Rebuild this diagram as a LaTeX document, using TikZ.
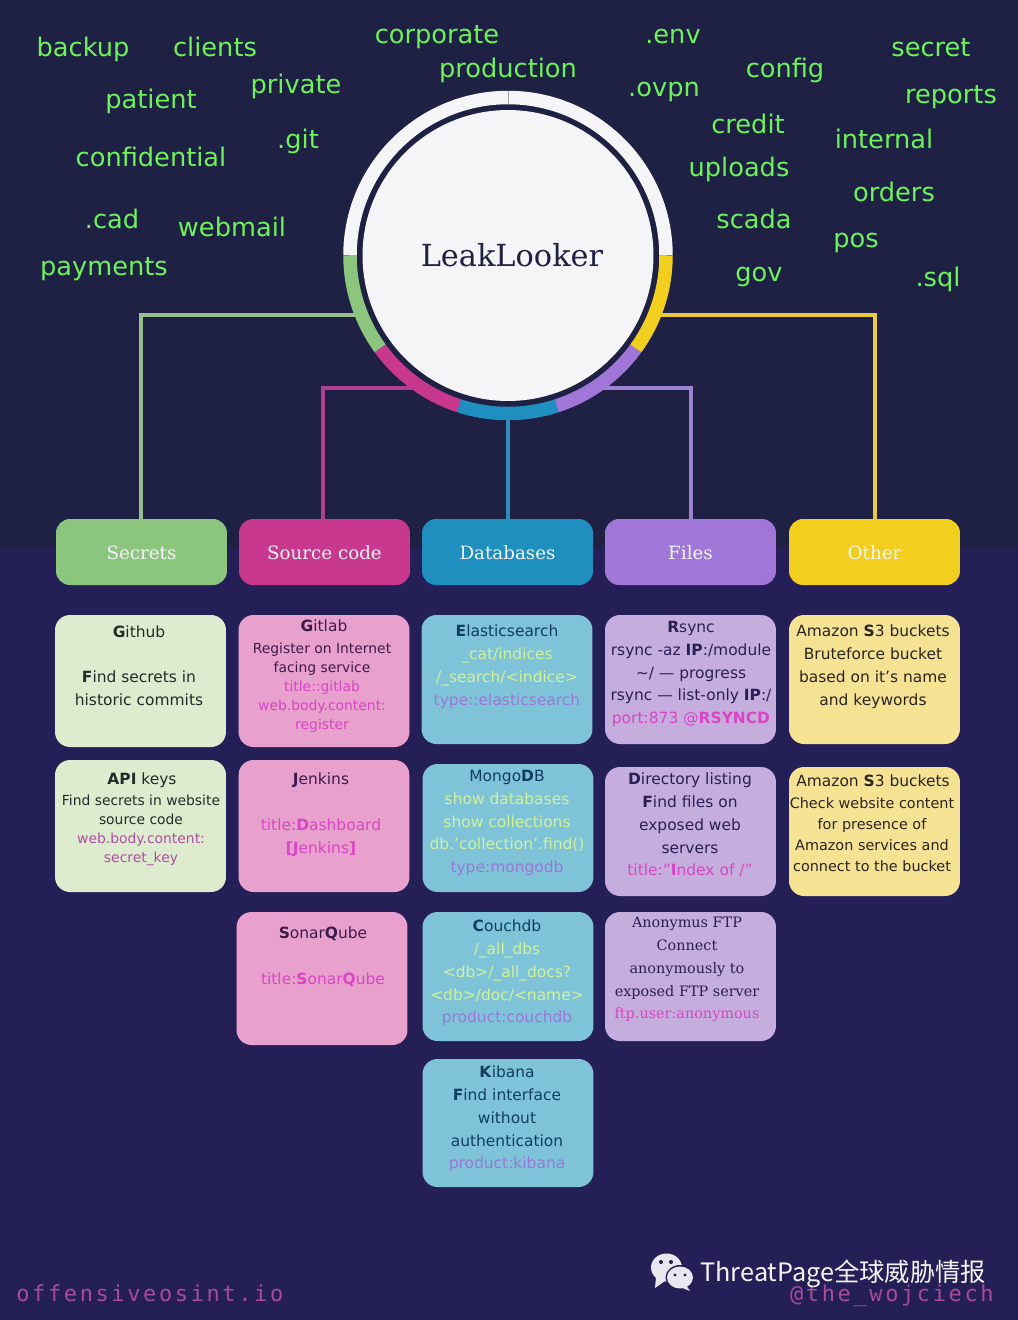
\documentclass[tikz,border=0pt]{standalone}
\usepackage{fontspec}
\usepackage{xcolor}
\setmainfont{DejaVu Sans}
\newfontfamily\slabfont{DejaVu Serif}
\newfontfamily\footfont[LetterSpace=12]{DejaVu Sans Mono}
\newfontfamily\cjkfont{Noto Sans CJK SC}
\definecolor{topbg}{HTML}{1E2143}
\definecolor{lowbg}{HTML}{251F57}
\definecolor{hubwhite}{HTML}{F5F5F7}
\definecolor{keygreen}{HTML}{6EF25A}
\definecolor{secretscol}{HTML}{8CC57E}
\definecolor{sourcecol}{HTML}{C8388F}
\definecolor{basescol}{HTML}{1F8FBF}
\definecolor{filescol}{HTML}{A076D8}
\definecolor{othercol}{HTML}{F2CE1E}
\definecolor{secretsfeed}{HTML}{98BE8C}
\definecolor{sourcefeed}{HTML}{B0408F}
\definecolor{basesfeed}{HTML}{2F8DBB}
\definecolor{filesfeed}{HTML}{9C82D0}
\definecolor{otherfeed}{HTML}{EBC845}
\definecolor{cardgreen}{HTML}{DDEBCF}
\definecolor{cardpink}{HTML}{E8A0CC}
\definecolor{cardblue}{HTML}{7FC3D9}
\definecolor{cardpurple}{HTML}{C5AEDD}
\definecolor{cardyellow}{HTML}{F5E293}
\definecolor{inkgreen}{HTML}{1F2E2A}
\definecolor{inkpink}{HTML}{3D1B4D}
\definecolor{inkblue}{HTML}{123E5E}
\definecolor{inkpurple}{HTML}{2A1F55}
\definecolor{inkyellow}{HTML}{2A2420}
\definecolor{qrymagenta}{HTML}{D945C4}
\definecolor{qryplum}{HTML}{B04FA0}
\definecolor{qryviolet}{HTML}{9A78D8}
\definecolor{cmdlime}{HTML}{CFF29B}
\definecolor{footpink}{HTML}{A84C9A}
\definecolor{iconwhite}{HTML}{E8E6EE}

\begin{document}
\begin{tikzpicture}[x=0.02cm, y=0.02cm,
	keyword/.style={text=keygreen, inner sep=0pt, text height=11pt, text depth=0pt, font=\fontsize{14.6}{17}\selectfont},
	catbox/.style={rounded corners=0.28cm, minimum width=3.42cm, minimum height=1.32cm, inner sep=0pt, text=hubwhite, text height=8pt, text depth=0pt, font=\slabfont\fontsize{10.4}{13}\selectfont},
	card/.style={rounded corners=0.3cm, minimum width=3.42cm, inner sep=0pt},
	cardtext/.style={align=center, inner sep=0pt, font=\fontsize{8.8}{13}\selectfont},
	smalltext/.style={align=center, inner sep=0pt, font=\fontsize{7.9}{10.8}\selectfont},
	ringseg/.style={line width=0.27cm},
	feed/.style={line width=0.08cm}]
	\useasboundingbox (0,0) rectangle (1018,-1320);
	\fill[topbg] (0,0) rectangle (1018,-547);
	\fill[lowbg] (0,-547) rectangle (1018,-1320);

	% words round the hub
	\foreach \kw/\px/\py [count=\i] in {backup/83/47, clients/215/47, corporate/437/34, production/508/68, .env/673/34, config/785/68, secret/931/47, reports/951/94, patient/151/99, private/296/84, .ovpn/664/87, credit/748/124, internal/884/139, .git/298/139, uploads/739/167, orders/894/192, confidential/151/157, .cad/112/219, webmail/232/227, scada/754/219, pos/856/238, .sql/938/277, payments/104/266, gov/759/272}
		\node[keyword] (word\i) at (\px,-\py) {\kw};

	\node[circle, fill=hubwhite, minimum size=5.82cm, inner sep=0pt] (hub) at (508,-255.5) {};
	\node[inner sep=0pt, text=topbg, font=\slabfont\fontsize{17.3}{20}\selectfont] (hubtitle) at (512,-255) {LeakLooker};

	% headers
	\node[catbox, fill=secretscol] (secrets) at (141.5,-552) {Secrets};
	\node[catbox, fill=sourcecol] (source) at (324.5,-552) {Source code};
	\node[catbox, fill=basescol] (bases) at (507.5,-552) {Databases};
	\node[catbox, fill=filescol] (files) at (690.5,-552) {Files};
	\node[catbox, fill=othercol] (other) at (874.5,-552) {Other};

	% connectors, then the ring over their ends
	\foreach \seg/\ang in {secrets/202, source/237, bases/270, files/303, other/338}
		\path (hub.center) ++(\ang:158) coordinate (tap\seg);
	\draw[feed, secretsfeed] ([xshift=-0.02cm]secrets.north) |- (tapsecrets);
	\draw[feed, sourcefeed] ([xshift=-0.03cm]source.north) |- (tapsource);
	\draw[feed, basesfeed] (bases.north) -- (bases.north |- tapbases);
	\draw[feed, filesfeed] (files.north) |- (tapfiles);
	\draw[feed, otherfeed] (other.north) |- (tapother);

	\draw[ringseg, hubwhite] (hub.center) ++(0:158) arc[start angle=0, end angle=180, radius=158];
	\foreach \col/\a in {secretscol/180, sourcecol/216, basescol/252, filescol/288, othercol/324}
		\draw[ringseg, \col] (hub.center) ++(\a:158) arc[start angle=\a, delta angle=36, radius=158];
	\draw[line width=0.01cm, gray!70] (hub.center) ++(90:151.5) -- ++(90:13.5);

	% cards
	\foreach \nm/\cx/\cy/\ch in {github/140.5/681/132, apikeys/140.5/826/132}
		\node[card, fill=cardgreen, minimum height=\ch*0.02cm] (\nm) at (\cx,-\cy) {};
	\foreach \nm/\cx/\cy/\ch in {gitlab/324/681/132, jenkins/324/826/132, sonar/322/978.5/133}
		\node[card, fill=cardpink, minimum height=\ch*0.02cm] (\nm) at (\cx,-\cy) {};
	\foreach \nm/\cx/\cy/\ch in {elastic/507/679.5/129, mongo/508/828/128, couch/508/976.5/129, kibana/508/1123/128}
		\node[card, fill=cardblue, minimum height=\ch*0.02cm] (\nm) at (\cx,-\cy) {};
	\foreach \nm/\cx/\cy/\ch in {rsync/690.5/679.5/129, dirlist/690.5/831.5/129, anonftp/690.5/976.5/129}
		\node[card, fill=cardpurple, minimum height=\ch*0.02cm] (\nm) at (\cx,-\cy) {};
	\foreach \nm/\cx/\cy/\ch in {bucketa/874.5/679.5/129, bucketb/874.5/831.5/129}
		\node[card, fill=cardyellow, minimum height=\ch*0.02cm] (\nm) at (\cx,-\cy) {};

	% card texts
	\node[cardtext, text=inkgreen] (githubtxt) at (139,-665.5) {\textbf{G}ithub\\~\\\textbf{F}ind secrets in\\historic commits};
	\node[cardtext, text=inkgreen] (apikeyshead) at (142,-780) {\textbf{API} keys};
	\node[smalltext, text=inkgreen] (apikeystxt) at (141,-830.5) {Find secrets in website\\source code\\\textcolor{qryplum}{web.body.content:}\\\textcolor{qryplum}{secret\_key}};

	\node[cardtext, text=inkpink] (gitlabhead) at (324,-626) {\textbf{G}itlab};
	\node[smalltext, text=inkpink] (gitlabtxt) at (322,-688) {Register on Internet\\facing service\\\textcolor{qrymagenta}{title::gitlab}\\\textcolor{qrymagenta}{web.body.content:}\\\textcolor{qrymagenta}{register}};
	\node[cardtext, text=inkpink] (jenkinstxt) at (321,-814.5) {\textbf{J}enkins\\~\\\textcolor{qrymagenta}{title:\textbf{D}ashboard}\\\textcolor{qrymagenta}{\textbf{[J}enkins\textbf{]}}};
	\node[cardtext, text=inkpink] (sonartxt) at (323,-957) {\textbf{S}onar\textbf{Q}ube\\~\\\textcolor{qrymagenta}{title:\textbf{S}onar\textbf{Q}ube}};

	\node[cardtext, text=inkblue] (elastictxt) at (507,-666.5) {\textbf{E}lasticsearch\\\textcolor{cmdlime}{\_cat/indices}\\\textcolor{cmdlime}{/\_search/<indice>}\\\textcolor{qryviolet}{type::elasticsearch}};
	\node[cardtext, text=inkblue] (mongotxt) at (507,-823) {Mongo\textbf{D}B\\\textcolor{cmdlime}{show databases}\\\textcolor{cmdlime}{show collections}\\\textcolor{cmdlime}{db.'collection'.find()}\\\textcolor{qryviolet}{type:mongodb}};
	\node[cardtext, text=inkblue] (couchtxt) at (507,-973) {\textbf{C}ouchdb\\\textcolor{cmdlime}{/\_all\_dbs}\\\textcolor{cmdlime}{<db>/\_all\_docs?}\\\textcolor{cmdlime}{<db>/doc/<name>}\\\textcolor{qryviolet}{product:couchdb}};
	\node[cardtext, text=inkblue] (kibanatxt) at (507,-1119) {\textbf{K}ibana\\\textbf{F}ind interface\\without\\authentication\\\textcolor{qryviolet}{product:kibana}};

	\node[cardtext, text=inkpurple] (rsynctxt) at (691,-674) {\textbf{R}sync\\rsync -az \textbf{IP}:/module\\\textasciitilde/ --- progress\\rsync --- list-only \textbf{IP}:/\\\textcolor{qrymagenta}{port:873 @\textbf{RSYNCD}}};
	\node[cardtext, text=inkpurple] (dirlisttxt) at (690,-825) {\textbf{D}irectory listing\\\textbf{F}ind files on\\exposed web\\servers\\\textcolor{qrymagenta}{title:"\textbf{I}ndex of /"}};
	\node[cardtext, text=inkpurple, font=\slabfont\fontsize{8.2}{13}\selectfont] (anonftptxt) at (687,-969.5) {Anonymus FTP\\Connect\\anonymously to\\exposed FTP server\\\textcolor{qrymagenta}{ftp.user:anonymous}};

	\node[cardtext, text=inkyellow] (bucketatxt) at (873,-666.5) {Amazon \textbf{S}3 buckets\\Bruteforce bucket\\based on it's name\\and keywords};
	\node[cardtext, text=inkyellow] (bucketbhead) at (873,-781) {Amazon \textbf{S}3 buckets};
	\node[smalltext, text=inkyellow, font=\fontsize{8.2}{11.9}\selectfont] (bucketbtxt) at (872,-834.5) {Check website content\\for presence of\\Amazon services and\\connect to the bucket};

	% footer
	\node[inner sep=0pt, anchor=west, text=footpink, font=\footfont\fontsize{12.5}{15}\selectfont] (sitename) at (16,-1293) {offensiveosint.io};
	\node[inner sep=0pt, anchor=east, text=footpink, font=\footfont\fontsize{12.5}{15}\selectfont] (handle) at (994,-1296) {@the\_wojciech};
	\node[inner sep=0pt, anchor=west, text=hubwhite, font=\cjkfont\fontsize{14.4}{17}\selectfont] (channel) at (700,-1274) {ThreatPage全球威胁情报};

	% chat logo
	\fill[iconwhite] (666.5,-1267.5) ellipse[x radius=15.5, y radius=14];
	\fill[iconwhite] (656,-1277) -- (655,-1288) -- (665,-1281) -- cycle;
	\fill[lowbg] (680,-1277.5) ellipse[x radius=14.5, y radius=12.5];
	\fill[iconwhite] (680,-1277.5) ellipse[x radius=13, y radius=11];
	\fill[iconwhite] (686,-1285) -- (690,-1291) -- (680,-1287) -- cycle;
	\foreach \ex/\ey in {661/1262, 671/1262}
		\fill[topbg] (\ex,-\ey) circle (2);
	\foreach \ex/\ey in {675/1275, 685/1275}
		\fill[topbg] (\ex,-\ey) circle (1.7);
\end{tikzpicture}
\end{document}
